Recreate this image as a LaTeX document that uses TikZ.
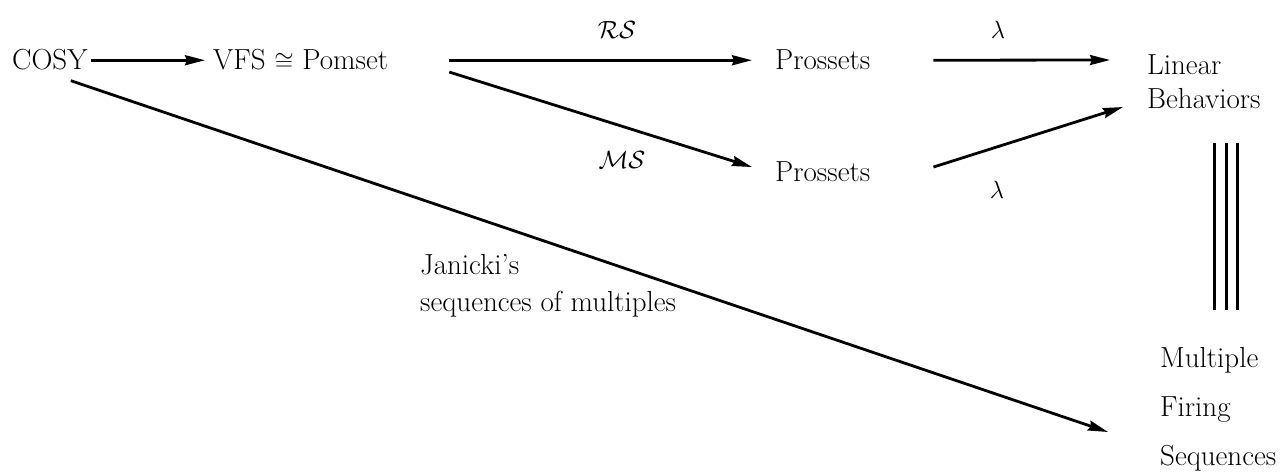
\documentclass[tikz,border=0pt]{standalone}
\usetikzlibrary{arrows.meta}
\begin{document}
\begin{tikzpicture}[x=1pt,y=-1pt,
  lbl/.style={inner sep=0pt, font=\fontsize{29}{34}\selectfont},
  arr/.style={line width=2.8pt, -{Stealth[length=20pt,width=10pt,inset=2pt]}},
  tri/.style={line width=2.6pt}]
\useasboundingbox (0,0) rectangle (1283,473);
% nodes
\node[lbl, anchor=base west] (cosy) at (12,70) {COSY};
\node[lbl, anchor=base west] (vfs) at (213,70) {VFS $\cong$ Pomset};
\node[lbl, anchor=base west] (p1) at (775,70) {Prossets};
\node[lbl, anchor=base west] (p2) at (775,182) {Prossets};
\node[lbl, anchor=north west, align=left] (lb) at (1147,54) {Linear\\Behaviors};
\node[lbl, anchor=north west, align=left, font=\fontsize{29}{49}\selectfont] (mfs) at (1160,347) {Multiple\\Firing\\Sequences};
% labels
\node[lbl] (rs) at (617,30) {$\mathcal{RS}$};
\node[lbl] (ms) at (622,160) {$\mathcal{MS}$};
\node[lbl] (l1) at (998,30) {$\lambda$};
\node[lbl] (l2) at (997,190) {$\lambda$};
\node[lbl, anchor=base west, align=left, font=\fontsize{29}{36}\selectfont] (jan) at (420,311) {Janicki's\\sequences of multiples};
% connectors
\draw[arr] ([xshift=3,yshift=7.6]cosy.mid east) -- ([xshift=-8,yshift=7.6]vfs.mid west);
\draw[arr] ([xshift=61,yshift=7.6]vfs.mid east) -- ([xshift=-23,yshift=7.6]p1.mid west);
\draw[arr] ([xshift=61,yshift=-4.2]vfs.mid east) -- ([xshift=-23,yshift=12.8]p2.mid west);
\draw[arr] ([xshift=63,yshift=7.6]p1.mid east) -- ([xshift=-37,yshift=-6]lb.north west);
\draw[arr] ([xshift=63,yshift=12.8]p2.mid east) -- ([xshift=-24,yshift=-53]lb.north west);
\draw[arr] ([xshift=21,yshift=-10]cosy.south) -- ([xshift=-52,yshift=-85]mfs.north west);
% triple equality
\path ([xshift=8,yshift=37]mfs.north) coordinate (tb);
\path ([yshift=-35]lb.south -| tb) coordinate (tt);
\draw[tri] (tt) -- (tb);
\draw[tri] ([xshift=-12]tt) -- ([xshift=-12]tb);
\draw[tri] ([xshift=11]tt) -- ([xshift=11]tb);
\end{tikzpicture}
\end{document}
